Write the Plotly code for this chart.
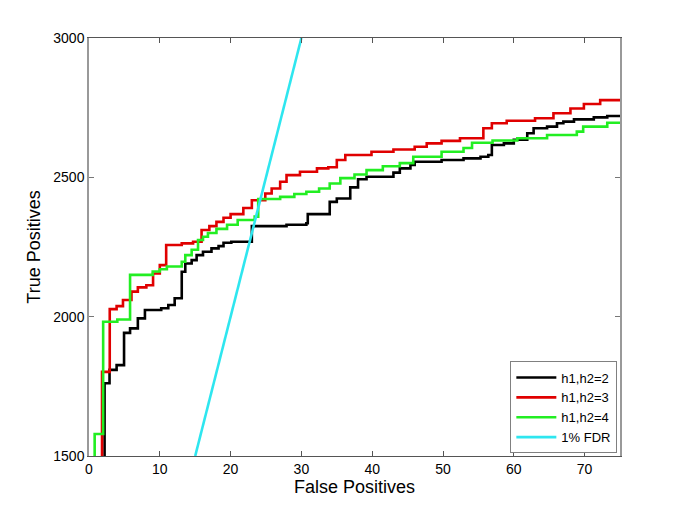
import plotly.graph_objects as go

# h1,h2=2 (black)
fp_h2 = [2.2, 2.2, 2.9, 3.9, 4.95, 5.8, 6.9, 7.9, 10.2, 11.2, 12.1, 13.1, 13.6, 14.5, 15.2, 16.1, 17.3, 18.3, 19.0, 20.1,
         23.0, 27.9, 30.7, 30.9, 34.0, 35.0, 36.9, 38.0, 39.2, 43.0, 43.9, 45.4, 46.0, 49.8, 52.9, 55.3, 56.4,
         56.9, 58.6, 60.0, 61.9, 62.8, 64.7, 66.1, 67.0, 68.5, 71.3, 73.2, 75.0]
tp_h2 = [1400, 1761, 1809, 1826, 1942, 1958, 1994, 2024, 2030, 2042, 2066, 2161, 2191, 2203, 2221, 2233, 2245, 2253, 2265, 2269,
         2325, 2330, 2335, 2368, 2412, 2424, 2464, 2493, 2502, 2517, 2532, 2544, 2556, 2562, 2568, 2574, 2580,
         2616, 2622, 2635, 2658, 2676, 2682, 2694, 2700, 2708, 2715, 2720, 2720]

# h1,h2=3 (red)
fp_h3 = [1.84, 1.84, 2.93, 3.9, 4.8, 6.0, 6.9, 8.1, 9.05, 10.0, 10.9, 13.1, 14.7, 15.9, 17.0, 18.0, 19.0, 20.0, 21.8,
         23.0, 24.9, 25.8, 27.0, 27.9, 29.8, 32.2, 33.8, 35.0, 36.2, 39.9, 43.0, 46.0, 47.7, 49.8, 52.4, 55.7,
         56.9, 59.0, 63.0, 65.6, 68.0, 69.9, 72.2, 75.0]
tp_h3 = [1400, 1802, 2027, 2038, 2060, 2090, 2105, 2113, 2155, 2185, 2257, 2263, 2269, 2311, 2325, 2340, 2355, 2368, 2390,
         2418, 2442, 2460, 2484, 2508, 2520, 2532, 2536, 2562, 2580, 2592, 2600, 2610, 2622, 2631, 2640, 2676,
         2694, 2703, 2712, 2730, 2747, 2763, 2777, 2777]

# h1,h2=4 (green)
fp_h4 = [0.8, 0.8, 2.0, 4.0, 5.8, 9.0, 10.0, 11.0, 13.1, 13.6, 14.5, 15.4, 16.1, 16.8, 18.0, 19.5, 21.0, 23.4, 23.9,
         27.0, 29.0, 30.7, 32.5, 34.0, 35.5, 37.5, 39.2, 41.5, 43.9, 45.8, 49.8, 52.9, 54.1, 57.0, 60.5, 64.7,
         68.9, 69.8, 73.2, 75.0]
tp_h4 = [1400, 1579, 1982, 1990, 2150, 2162, 2170, 2180, 2197, 2221, 2240, 2275, 2287, 2300, 2315, 2330, 2347, 2359, 2422,
         2430, 2440, 2448, 2460, 2478, 2497, 2510, 2526, 2540, 2551, 2574, 2592, 2605, 2624, 2632, 2640, 2652,
         2664, 2682, 2696, 2696]

# 1% FDR line
fdr_fp = [15, 30]
fdr_tp = [1500, 3000]

x_ticks = [0, 10, 20, 30, 40, 50, 60, 70]
y_ticks = [1500, 2000, 2500, 3000]

fig = go.Figure()
lw = 2.6
fig.add_trace(go.Scatter(x=fp_h2, y=tp_h2, mode="lines", line=dict(color="#000000", width=lw, shape="hv"),
                         name="h1,h2=2"))
fig.add_trace(go.Scatter(x=fp_h3, y=tp_h3, mode="lines", line=dict(color="#e00000", width=lw, shape="hv"),
                         name="h1,h2=3"))
fig.add_trace(go.Scatter(x=fp_h4, y=tp_h4, mode="lines", line=dict(color="#22ee22", width=lw, shape="hv"),
                         name="h1,h2=4"))
fig.add_trace(go.Scatter(x=fdr_fp, y=fdr_tp, mode="lines", line=dict(color="#2ee6ef", width=lw),
                         name="1% FDR"))

font_family = "Liberation Sans, Arial, Helvetica, sans-serif"
fig.update_layout(
    width=677, height=505,
    margin=dict(l=81, r=65, t=30, b=57),
    paper_bgcolor="white", plot_bgcolor="white",
    font=dict(family=font_family, size=14, color="black"),
    showlegend=True,
    legend=dict(x=0.995, y=0.006, xanchor="right", yanchor="bottom",
                bgcolor="white", bordercolor="#808080", borderwidth=1, itemwidth=40,
                font=dict(size=13, family=font_family), tracegroupgap=0),
    xaxis=dict(range=[0, 75], tickvals=x_ticks, ticks="inside", ticklen=5, tickcolor="#555",
               showline=True, linecolor="#555", linewidth=1, mirror="ticks",
               showgrid=False, zeroline=False,
               title=dict(text="False Positives", font=dict(size=18), standoff=0),
               tickfont=dict(size=14)),
    yaxis=dict(range=[1500, 3000], tickvals=y_ticks, ticks="inside", ticklen=5, tickcolor="#777",
               showline=True, linecolor="#999", linewidth=1.5, mirror="ticks",
               showgrid=False, zeroline=False,
               title=dict(text="True Positives", font=dict(size=18), standoff=8),
               tickfont=dict(size=14)),
)

fig.write_html("out.html")
